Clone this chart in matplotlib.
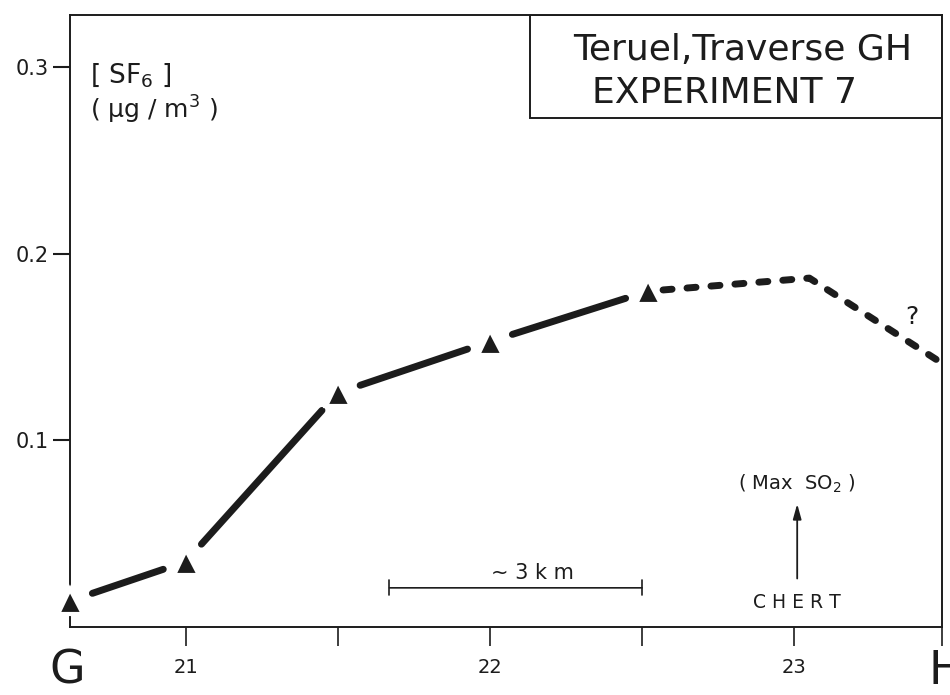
import matplotlib.pyplot as plt
from matplotlib.patches import Rectangle

# Traverse G-H, SF6 concentration along the road (km posts)
km_measured = [20.62, 21.0, 21.5, 22.0, 22.52]
sf6_measured = [0.014, 0.035, 0.1255, 0.153, 0.180]

# Inferred continuation beyond the last sample
km_inferred = [22.52, 23.05, 23.49]
sf6_inferred = [0.180, 0.187, 0.141]

x_ticks = [21, 21.5, 22, 22.5, 23]
x_labels = ["21", "", "22", "", "23"]
y_ticks = [0.1, 0.2, 0.3]
y_labels = ["0.1", "0.2", "0.3"]

INK = "#1c1c1c"
plt.rcParams["font.family"] = ["DejaVu Sans"]
plt.rcParams["mathtext.fontset"] = "dejavusans"
plt.rcParams["lines.scale_dashes"] = False

fig = plt.figure(figsize=(9.5, 6.95), dpi=100)
ax = fig.add_axes([0.0737, 0.0978, 0.9179, 0.8806])

ax.set_xlim(20.62, 23.486)
ax.set_ylim(0, 0.328)

# solid segments between samples, broken near each marker
for i in range(len(km_measured) - 1):
    ax.annotate("", xy=(km_measured[i + 1], sf6_measured[i + 1]),
                xytext=(km_measured[i], sf6_measured[i]),
                arrowprops=dict(arrowstyle="-", lw=5, color=INK,
                                shrinkA=17, shrinkB=17, capstyle="round"))

ax.plot(km_inferred, sf6_inferred, color=INK, lw=5,
        linestyle=(6.5, (6.5, 10.8)), dash_capstyle="round",
        solid_joinstyle="round")

ax.plot(km_measured, sf6_measured, linestyle="none", marker="^", ms=18,
        color=INK, markeredgecolor="white", markeredgewidth=3,
        clip_on=False, zorder=5)

ax.text(23.387, 0.166, "?", fontsize=18, color=INK, ha="center", va="center")

# distance scale bar
ax.annotate("", xy=(22.5, 0.021), xytext=(21.67, 0.021),
            arrowprops=dict(arrowstyle="|-|, widthA=0.55, widthB=0.55",
                            lw=1.2, color=INK, shrinkA=0, shrinkB=0))
ax.text(22.14, 0.029, "~ 3 k m", fontsize=15, color=INK,
        ha="center", va="center")

# chert outcrop / SO2 maximum
ax.annotate("", xy=(23.01, 0.066), xytext=(23.01, 0.026),
            arrowprops=dict(arrowstyle="-|>, head_length=0.9, head_width=0.25",
                            lw=1.3, color=INK, shrinkA=0, shrinkB=0))
ax.text(23.01, 0.077, "( Max  SO$_2$ )", fontsize=14, color=INK,
        ha="center", va="center")
ax.text(23.01, 0.013, "C H E R T", fontsize=13.5, color=INK,
        ha="center", va="center")

# y label inside the frame
ax.text(0.023, 0.902, "[ SF$_6$ ]", transform=ax.transAxes, fontsize=19,
        color=INK, ha="left", va="center")
ax.text(0.023, 0.845, "( µg / m$^3$ )", transform=ax.transAxes, fontsize=18,
        color=INK, ha="left", va="center")

# title box
ax.add_patch(Rectangle((0.5275, 0.832), 0.4725, 0.168, transform=ax.transAxes,
                       fill=False, edgecolor=INK, lw=1.4))
ax.text(0.771, 0.943, "Teruel,Traverse GH", transform=ax.transAxes,
        fontsize=26, color=INK, ha="center", va="center")
ax.text(0.751, 0.872, "EXPERIMENT 7", transform=ax.transAxes,
        fontsize=26, color=INK, ha="center", va="center")

ax.set_xticks(x_ticks + [23.486])
ax.set_xticklabels(x_labels + [""])
ax.set_yticks(y_ticks)
ax.set_yticklabels(y_labels)
ax.tick_params(axis="x", direction="out", length=14, width=1.2, colors=INK,
               labelsize=14, pad=8)
ax.tick_params(axis="y", direction="out", length=12, width=1.5, colors=INK,
               labelsize=15, pad=3)

for spine in ax.spines.values():
    spine.set_color(INK)
    spine.set_linewidth(1.4)

# traverse end points
fig.text(0.071, 0.034, "G", fontsize=33, color=INK, ha="center", va="center")
fig.text(0.977, 0.034, "H", fontsize=33, color=INK, ha="left", va="center")

fig.savefig("out.png", dpi=100, facecolor="white")
